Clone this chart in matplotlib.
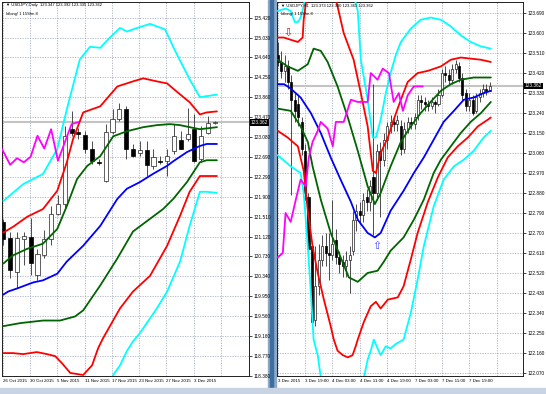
import numpy as np
import matplotlib
matplotlib.use('Agg')
import matplotlib.pyplot as plt
from matplotlib.patches import Rectangle

plt.rcParams['font.family'] = ['Liberation Sans', 'DejaVu Sans']

# ---------------- daily chart (left) ----------------
d_open = [121.40, 121.09, 120.43, 121.08, 121.11, 120.36, 120.75, 121.08, 121.57, 121.76,
          123.24, 123.18, 123.11, 122.85, 122.59, 122.22, 123.17, 123.43, 123.62, 122.84,
          122.76, 122.83, 122.51, 122.61, 122.61, 122.81, 123.02, 123.03, 123.24, 122.64,
          123.15, 123.35]
d_high = [121.47, 121.21, 121.21, 121.21, 121.48, 120.88, 121.24, 121.73, 121.93, 123.29,
          123.59, 123.26, 123.20, 123.00, 122.64, 123.33, 123.62, 123.75, 123.69, 122.94,
          123.00, 123.00, 122.84, 122.71, 122.84, 123.33, 123.20, 123.65, 123.52, 123.29,
          123.49, 123.40]
d_low = [120.95, 120.30, 120.10, 120.56, 120.36, 120.26, 120.69, 120.95, 121.54, 121.66,
         123.10, 123.03, 122.77, 122.55, 122.53, 122.19, 123.13, 123.40, 122.64, 122.68,
         122.71, 122.32, 122.45, 122.55, 122.32, 122.74, 122.84, 123.00, 122.58, 122.58,
         123.13, 123.33]
d_close = [121.08, 120.46, 121.09, 121.13, 120.61, 120.77, 121.08, 121.57, 121.76, 123.10,
           123.15, 123.13, 122.85, 122.61, 122.56, 123.17, 123.43, 123.62, 122.85, 122.71,
           122.83, 122.53, 122.68, 122.58, 122.71, 123.10, 122.85, 123.13, 122.61, 123.09,
           123.35, 123.362]

# bands: (bar, price)
d_cyan_up_x = [0, 2.9, 5.8, 7.9, 9.3, 11.2, 12.7, 14.2, 15.6, 17.1, 18.1, 19.6, 21.5, 23.7, 25.1, 27.3, 28.8, 29.8, 31.3]
d_cyan_up = [121.82, 122.15, 122.35, 122.84, 123.62, 124.60, 124.85, 124.83, 125.03, 125.22, 125.15, 125.22,
             125.30, 125.19, 124.79, 124.21, 123.86, 123.88, 123.91]
d_red_up_x = [0, 1.4, 3.5, 5.8, 7.9, 9.3, 10.2, 11.7, 14.2, 16.7, 19.0, 20.5, 22.5, 24.0, 25.4, 27.3, 28.8, 29.8, 31.3]
d_red_up = [121.20, 121.31, 121.51, 121.66, 122.02, 122.58, 123.03, 123.56, 123.68, 124.07, 124.17, 124.23,
            124.17, 124.13, 123.97, 123.76, 123.52, 123.56, 123.58]
d_grn_up_x = [0, 1.4, 3.5, 5.8, 7.9, 9.3, 10.8, 12.3, 14.2, 16.1, 18.1, 20.5, 22.5, 24.4, 25.9, 27.3, 28.8, 31.3]
d_grn_up = [120.59, 120.75, 120.88, 120.98, 121.27, 121.72, 122.25, 122.51, 122.70, 123.09, 123.19, 123.27,
            123.31, 123.33, 123.31, 123.27, 123.23, 123.27]
d_mid_x = [0, 0.7, 2.0, 4.4, 5.8, 7.9, 9.3, 11.7, 14.2, 16.7, 18.1, 20.0, 21.9, 24.0, 24.9, 26.9, 28.8, 29.8, 31.3]
d_mid = [119.98, 120.04, 120.10, 120.22, 120.26, 120.39, 120.63, 120.94, 121.33, 121.86, 122.06, 122.19,
         122.35, 122.51, 122.60, 122.78, 122.90, 122.94, 122.94]
d_grn_dn_x = [0, 2.5, 5.8, 8.3, 10.5, 11.7, 14.2, 16.7, 19.0, 21.5, 23.4, 24.9, 26.9, 28.8, 29.8, 31.3]
d_grn_dn = [119.36, 119.42, 119.47, 119.47, 119.55, 119.67, 120.16, 120.69, 121.22, 121.47, 121.66, 121.86,
            122.19, 122.58, 122.62, 122.62]
d_red_dn_x = [0, 1.4, 2.9, 4.9, 6.4, 7.6, 8.6, 9.8, 11.7, 13.0, 13.9, 14.6, 17.1, 19.0, 21.5, 24.0, 25.9,
              27.3, 28.8, 29.8, 31.3]
d_red_dn = [118.83, 118.83, 118.81, 118.85, 118.81, 118.77, 118.63, 118.44, 118.40, 118.59, 118.93, 119.12,
            119.71, 120.04, 120.35, 120.94, 121.53, 122.00, 122.31, 122.31, 122.31]
d_cyan_dn_x = [0, 5.8, 7.9, 9.3, 11.2, 12.7, 14.2, 16.1, 17.1, 18.1, 19.0, 20.0, 22.5, 24.0, 25.9, 27.3,
               28.8, 29.8, 31.3]
d_cyan_dn = [118.15, 118.15, 117.95, 117.63, 117.17, 117.30, 117.85, 118.40, 118.59, 118.87, 119.06, 119.22,
             119.71, 120.04, 120.63, 121.33, 122.00, 122.00, 121.98]
d_lag_x = [-0.2, 1, 2, 3, 4, 5, 6, 7, 8, 9, 10, 11]
d_lag = [122.84, 122.53, 122.66, 122.58, 122.69, 123.10, 122.85, 123.23, 122.61, 122.97, 123.33, 123.37]

d_yticks = [125.42, 125.03, 124.64, 124.25, 123.86, 123.47, 123.08, 122.69, 122.29, 121.90,
            121.51, 121.12, 120.73, 120.34, 119.95, 119.56, 119.16, 118.77, 118.38]
d_ylabels = ['125.420', '125.030', '124.640', '124.250', '123.860', '123.470', '123.080', '122.690',
             '122.290', '121.900', '121.510', '121.120', '120.730', '120.340', '119.950', '119.560',
             '119.160', '118.770', '118.380']
d_xlabels = ['26 Oct 2015', '30 Oct 2015', '5 Nov 2015', '11 Nov 2015', '17 Nov 2015',
             '23 Nov 2015', '27 Nov 2015', '3 Dec 2015', '']

# ---------------- H1 chart (right) ----------------
h_open = [123.50, 123.47, 123.43, 123.45, 123.38, 123.30, 123.28, 123.20, 123.07, 122.86,
          122.64, 122.31, 122.46, 122.58, 122.64, 122.61, 122.60, 122.67, 122.59, 122.57,
          122.55, 122.58, 122.62, 122.76, 122.80, 122.78, 122.86, 122.84, 122.95, 122.88,
          123.07, 123.03, 123.12, 123.18, 123.20, 123.19, 123.18, 123.08, 123.17, 123.20,
          123.19, 123.23, 123.30, 123.29, 123.28, 123.27, 123.29, 123.28, 123.32, 123.42,
          123.41, 123.39, 123.44, 123.45, 123.40, 123.33, 123.27, 123.30, 123.25, 123.31,
          123.33, 123.35, 123.34]
h_high = [123.56, 123.52, 123.50, 123.48, 123.41, 123.33, 123.32, 123.22, 123.10, 122.88,
          122.66, 122.64, 122.65, 122.69, 122.70, 122.70, 122.85, 122.72, 122.62, 122.60,
          122.62, 122.64, 122.80, 122.83, 122.84, 122.88, 122.90, 122.94, 123.37, 123.10,
          123.11, 123.15, 123.20, 123.23, 123.22, 123.23, 123.21, 123.20, 123.22, 123.22,
          123.24, 123.32, 123.32, 123.31, 123.30, 123.31, 123.30, 123.35, 123.44, 123.45,
          123.44, 123.46, 123.48, 123.47, 123.42, 123.35, 123.33, 123.32, 123.33, 123.35,
          123.37, 123.37, 123.38]
h_low = [123.45, 123.40, 123.38, 123.35, 122.87, 123.20, 123.18, 123.05, 122.85, 122.60,
         122.27, 122.28, 122.42, 122.55, 122.55, 122.49, 122.58, 122.56, 122.52, 122.50,
         122.50, 122.43, 122.60, 122.71, 122.74, 122.75, 122.80, 122.80, 122.69, 122.85,
         122.77, 123.00, 123.08, 123.15, 123.16, 123.16, 123.05, 123.06, 123.15, 123.17,
         123.17, 123.21, 123.26, 123.25, 123.25, 123.26, 123.24, 123.27, 123.31, 123.38,
         123.37, 123.37, 123.42, 123.38, 123.30, 123.25, 123.25, 123.23, 123.24, 123.29,
         123.31, 123.32, 123.34]
h_close = [123.47, 123.43, 123.45, 123.38, 123.30, 123.25, 123.22, 123.08, 122.88, 122.63,
           122.30, 122.46, 122.58, 122.64, 122.61, 122.60, 122.65, 122.59, 122.56, 122.55,
           122.58, 122.60, 122.76, 122.80, 122.78, 122.85, 122.84, 122.91, 122.88, 123.07,
           123.03, 123.12, 123.18, 123.20, 123.19, 123.21, 123.08, 123.17, 123.20, 123.19,
           123.22, 123.30, 123.29, 123.28, 123.27, 123.29, 123.28, 123.32, 123.42, 123.41,
           123.39, 123.44, 123.46, 123.40, 123.32, 123.27, 123.30, 123.24, 123.31, 123.33,
           123.35, 123.34, 123.362]

h_mid_x = [0, 1.9, 3.8, 6.7, 9.7, 12.6, 15.5, 18.4, 21.4, 23.4, 26.3, 28.4, 30.1, 33.0, 36.8, 39.8,
           42.7, 45.6, 48.5, 51.5, 54.4, 57.3, 60.2, 62.3]
h_mid = [123.37, 123.37, 123.35, 123.31, 123.24, 123.15, 123.04, 122.94, 122.84, 122.76, 122.70, 122.68,
         122.70, 122.80, 122.89, 122.97, 123.04, 123.12, 123.20, 123.25, 123.30, 123.31, 123.33, 123.34]
h_grn_up_x = [0, 2.9, 5.9, 8.8, 10.5, 12.6, 14.6, 17.5, 20.5, 23.4, 26.3, 28.4, 30.1, 33.0, 36.0, 38.9,
              41.8, 44.7, 47.7, 50.6, 53.5, 57.3, 62.3]
h_grn_up = [123.48, 123.45, 123.43, 123.46, 123.53, 123.52, 123.47, 123.36, 123.22, 123.07, 122.91, 122.83,
            122.88, 123.00, 123.11, 123.18, 123.24, 123.29, 123.34, 123.37, 123.39, 123.40, 123.40]
h_grn_dn_x = [0, 3.8, 6.7, 8.8, 10.2, 12.6, 15.5, 18.4, 20.8, 23.4, 26.3, 29.2, 31.0, 33.0, 36.8, 39.8,
              42.7, 45.6, 47.7, 50.6, 53.5, 56.4, 59.4, 62.3]
h_grn_dn = [123.26, 123.25, 123.18, 123.11, 123.00, 122.85, 122.70, 122.59, 122.50, 122.48, 122.52, 122.53,
            122.57, 122.62, 122.68, 122.76, 122.85, 122.97, 123.03, 123.09, 123.15, 123.20, 123.24, 123.29]
h_red_up_x = [0, 1.8, 3.8, 5.9, 7.3, 7.6, 8.2, 9.7, 12.6, 15.5, 17.5, 19.3, 22.2, 24.3, 26.3, 27.8, 28.7,
              30.1, 32.2, 33.9, 36.0, 38.0, 40.9, 43.9, 47.7, 50.6, 53.5, 59.4, 62.3]
h_red_up = [123.58, 123.58, 123.57, 123.56, 123.58, 123.66, 123.73, 123.84, 123.93, 123.84, 123.72, 123.60,
            123.48, 123.33, 123.18, 122.98, 122.97, 123.06, 123.13, 123.21, 123.30, 123.38, 123.42, 123.43,
            123.45, 123.48, 123.49, 123.48, 123.47]
h_red_dn_x = [0, 2.9, 5.9, 7.6, 8.8, 10.2, 11.7, 13.5, 15.5, 16.4, 17.5, 19.0, 20.5, 21.9, 22.8, 23.4,
              25.2, 27.2, 28.7, 30.1, 32.2, 35.1, 36.8, 38.9, 40.9, 43.9, 46.8, 49.7, 52.6, 55.6, 58.5,
              61.4, 62.3]
h_red_dn = [123.16, 123.13, 123.09, 122.98, 122.80, 122.64, 122.52, 122.40, 122.28, 122.22, 122.17, 122.15,
            122.14, 122.15, 122.19, 122.22, 122.30, 122.37, 122.39, 122.36, 122.40, 122.41, 122.46, 122.58,
            122.70, 122.84, 122.95, 123.04, 123.09, 123.13, 123.18, 123.21, 123.22]
h_cyan_up_x = [0, 2.3, 3.8, 5.0, 5.9, 6.7, 7.6, 9.7, 14.0, 18.4, 21.9, 23.4, 24.3, 26.3, 27.8, 28.7, 30.1,
               31.6, 33.0, 34.5, 36.0, 38.9, 41.8, 44.7, 47.7, 50.6, 53.5, 56.4, 59.4, 62.3]
h_cyan_up = [123.70, 123.71, 123.70, 123.65, 123.65, 123.67, 123.72, 123.93, 124.20, 124.02, 123.79, 123.70,
             123.48, 123.30, 123.13, 123.13, 123.21, 123.33, 123.42, 123.50, 123.56, 123.62, 123.66, 123.67,
             123.66, 123.63, 123.59, 123.56, 123.54, 123.53]
h_cyan_dn_x = [0, 3.8, 6.7, 7.6, 8.8, 9.7, 10.5, 11.7, 12.6, 15.5, 19.9, 23.4, 25.2, 26.3, 27.2, 28.1,
               29.2, 30.1, 31.6, 33.0, 34.5, 36.8, 38.9, 40.9, 42.7, 45.6, 48.5, 51.5, 54.4, 57.3, 60.2, 62.3]
h_cyan_dn = [123.05, 123.00, 122.97, 122.88, 122.64, 122.43, 122.22, 122.15, 122.05, 121.81, 121.72, 121.86,
             122.05, 122.13, 122.17, 122.22, 122.18, 122.15, 122.19, 122.18, 122.20, 122.22, 122.34, 122.49,
             122.64, 122.82, 122.94, 123.00, 123.03, 123.07, 123.13, 123.16]
h_lag_x = [0, 1.5, 2.3, 3.8, 5.3, 6.7, 8.2, 9.1, 10.2, 11.7, 12.6, 14.6, 16.1, 17.0, 19.3, 21.4, 23.4,
           26.3, 27.2, 29.2, 30.7, 32.5, 33.9, 35.4, 36.6, 38.0, 39.8, 42.4]
h_lag = [122.59, 122.61, 122.79, 122.75, 122.85, 122.94, 122.91, 123.04, 123.11, 123.16, 123.20, 123.17,
         123.09, 123.20, 123.20, 123.30, 123.29, 123.29, 123.42, 123.39, 123.44, 123.42, 123.29, 123.33,
         123.25, 123.32, 123.36, 123.36]

h_yticks = [123.69, 123.60, 123.51, 123.42, 123.33, 123.24, 123.15, 123.06, 122.97, 122.88,
            122.79, 122.70, 122.61, 122.52, 122.43, 122.34, 122.25, 122.16, 122.07]
h_ylabels = ['%.3f' % v for v in h_yticks]
h_xlabels = ['3 Dec 2015', '3 Dec 19:00', '4 Dec 03:00', '4 Dec 11:00', '4 Dec 19:00',
             '7 Dec 03:00', '7 Dec 11:00', '7 Dec 19:00', '']

last_price = 123.362


def candles(ax, o, h, l, c, w):
    o, h, l, c = map(np.array, (o, h, l, c))
    x = np.arange(len(o))
    ax.vlines(x, l, h, color='#303030', lw=0.6, zorder=2)
    up = c >= o
    ax.bar(x[up], (c - o)[up], bottom=o[up], width=w, color='white',
           edgecolor='#202020', lw=0.5, zorder=2.5)
    ax.bar(x[~up], (o - c)[~up], bottom=c[~up], width=w, color='black',
           edgecolor='black', lw=0.5, zorder=2.5)


def bands(ax, lines):
    for xs, ys, col in lines:
        ax.plot(xs, ys, color=col, lw=1.3, zorder=3, solid_capstyle='round')


def style(ax, yt, yl, xt, xl, title):
    ax.set_yticks(yt)
    ax.set_yticklabels(yl)
    ax.yaxis.tick_right()
    ax.set_xticks(xt)
    ax.set_xticklabels(xl, ha='left')
    ax.tick_params(axis='y', length=2, width=0.5, pad=1.5, labelsize=3.4, colors='black')
    ax.tick_params(axis='x', length=0, pad=2.5, labelsize=3.2)
    ax.grid(True, color='#8a96b0', linestyle=(0, (2, 2)), lw=0.45)
    ax.set_axisbelow(True)
    for s in ax.spines.values():
        s.set_color('#202020')
        s.set_linewidth(0.7)
    ax.axhline(last_price, color='#c4c4c4', lw=1.5, zorder=1)
    ax.text(1.006, last_price, '%.3f' % last_price, transform=ax.get_yaxis_transform(),
            fontsize=3.4, color='white', va='center', ha='left',
            bbox=dict(facecolor='black', edgecolor='none', pad=0.6), zorder=10)
    ax.text(0.015, 0.997, title, transform=ax.transAxes, fontsize=3.0, va='top', ha='left')
    ax.text(0.015, 0.972, 'Idlong! 1 15Sfm 8', transform=ax.transAxes, fontsize=3.0,
            va='top', ha='left')


fig = plt.figure(figsize=(5.46, 3.94), dpi=100, facecolor='white')

# window frame bits
fig.add_artist(Rectangle((268 / 546, 0), 8 / 546, 1, transform=fig.transFigure,
                         color='#8fa8c8', zorder=0))
fig.add_artist(Rectangle((270 / 546, 0), 3 / 546, 1, transform=fig.transFigure,
                         color='#3c6ea0', zorder=0))
fig.add_artist(Rectangle((0, 0), 1, 6 / 394, transform=fig.transFigure,
                         color='#c8d4e4', zorder=0))

ax1 = fig.add_axes([2 / 546, 18 / 394, 247 / 546, 374 / 394])
candles(ax1, d_open, d_high, d_low, d_close, 0.6)
bands(ax1, [(d_cyan_up_x, d_cyan_up, '#00ffff'), (d_cyan_dn_x, d_cyan_dn, '#00ffff'),
            (d_red_up_x, d_red_up, '#ff0000'), (d_red_dn_x, d_red_dn, '#ff0000'),
            (d_grn_up_x, d_grn_up, '#006400'), (d_grn_dn_x, d_grn_dn, '#006400'),
            (d_mid_x, d_mid, '#0000ff'), (d_lag_x, d_lag, '#ff00ff')])
ax1.set_xlim(-0.2, 36.0)
ax1.set_ylim(118.38, 125.73)
style(ax1, d_yticks, d_ylabels, [-0.1 + 4 * k for k in range(9)], d_xlabels,
      '\u25bc USDJPY,Daily  123.347 123.392 123.335 123.362')

ax2 = fig.add_axes([277 / 546, 18 / 394, 246 / 546, 374 / 394])
candles(ax2, h_open, h_high, h_low, h_close, 0.6)
bands(ax2, [(h_cyan_up_x, h_cyan_up, '#00ffff'), (h_cyan_dn_x, h_cyan_dn, '#00ffff'),
            (h_red_up_x, h_red_up, '#ff0000'), (h_red_dn_x, h_red_dn, '#ff0000'),
            (h_grn_up_x, h_grn_up, '#006400'), (h_grn_dn_x, h_grn_dn, '#006400'),
            (h_mid_x, h_mid, '#0000ff'), (h_lag_x, h_lag, '#ff00ff')])
# signal arrows
ax2.text(2.9, 123.60, '\u21e9', color='red', fontsize=8, ha='center', va='center',
         family='DejaVu Sans', zorder=6)
ax2.text(28.9, 122.64, '\u21e7', color='#4646ff', fontsize=8, ha='center', va='center',
         family='DejaVu Sans', zorder=6)
ax2.set_xlim(-0.2, 71.7)
ax2.set_ylim(122.056, 123.74)
style(ax2, h_yticks, h_ylabels, [8 * k for k in range(9)], h_xlabels,
      '\u25bc USDJPY,H1  123.373 123.380 123.361 123.362')

plt.savefig('out.png', dpi=100)
